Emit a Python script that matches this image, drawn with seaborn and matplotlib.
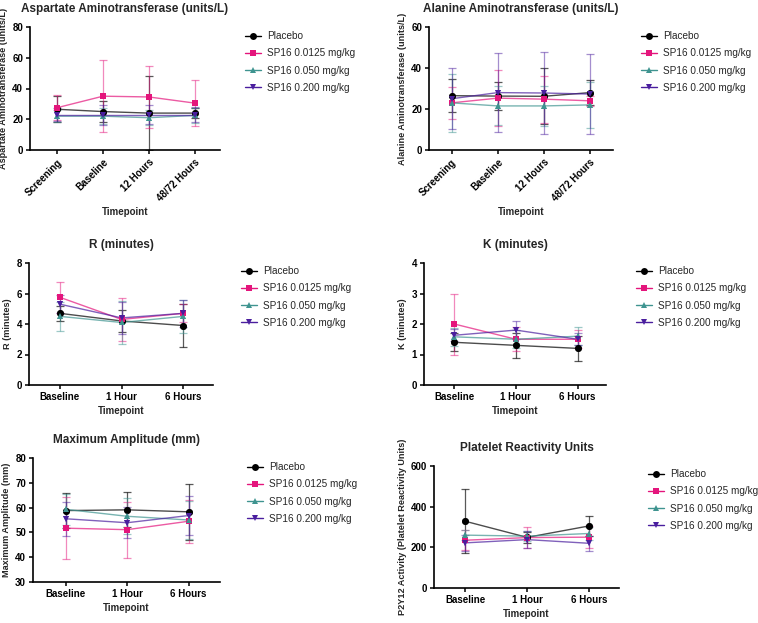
import numpy as np
import pandas as pd
import seaborn as sns
import matplotlib
matplotlib.use("Agg")
import matplotlib.pyplot as plt
from matplotlib.lines import Line2D

sns.set_theme(style="ticks")
plt.rcParams['font.family'] = ['Liberation Sans', 'DejaVu Sans']

groups = ["Placebo", "SP16 0.0125 mg/kg", "SP16 0.050 mg/kg", "SP16 0.200 mg/kg"]
colors = ["#000000", "#E4157C", "#3F9490", "#4A1E9E"]
markers = ["o", "s", "^", "v"]

tp_liver = ["Screening", "Baseline", "12 Hours", "48/72 Hours"]
tp_teg = ["Baseline", "1 Hour", "6 Hours"]

# Aspartate Aminotransferase (mean, SD)
ast_mean = [[26.5, 25, 24, 24], [27.5, 35, 34.5, 30.5], [22, 22, 21, 22.5], [23, 23, 23, 23]]
ast_sd = [[8.5, 7, 24, 3], [8, 23.5, 20, 15], [4, 5, 5, 5], [4, 6.5, 6.2, 5]]
# Alanine Aminotransferase
alt_mean = [[26.5, 26.3, 26.2, 28], [23, 25.3, 24.8, 24], [23, 21.5, 21.5, 22], [25, 28, 27.8, 27.3]]
alt_sd = [[8.2, 6.8, 13.6, 6.2], [7.8, 13.5, 11.4, 2.5], [14, 9.5, 9.8, 11.3], [14.9, 19.3, 20, 19.3]]
# R (minutes)
r_mean = [[4.7, 4.2, 3.9], [5.75, 4.3, 4.7], [4.5, 4.1, 4.5], [5.3, 4.4, 4.7]]
r_sd = [[0.5, 0.72, 1.4], [1.0, 1.4, 0.6], [0.95, 1.4, 1.07], [0.6, 1.05, 0.87]]
# K (minutes)
k_mean = [[1.4, 1.3, 1.2], [2.0, 1.5, 1.5], [1.58, 1.5, 1.6], [1.63, 1.8, 1.5]]
k_sd = [[0.3, 0.4, 0.4], [1.0, 0.4, 0.3], [0.3, 0.3, 0.3], [0.2, 0.3, 0.2]]
# Maximum Amplitude (mm)
ma_mean = [[58.8, 59.1, 58.3], [51.7, 51.1, 54.5], [59.3, 56.5, 55], [55.5, 53.9, 56.8]]
ma_sd = [[6.9, 7.1, 11.2], [12.6, 11.3, 8.7], [6.3, 7.2, 7.5], [6.8, 6.2, 7.8]]
# Platelet Reactivity Units
pru_mean = [[328, 249, 305], [235, 248, 250], [260, 255, 268], [222, 238, 220]]
pru_sd = [[157, 28, 50], [48, 51, 55], [25, 25, 30], [38, 40, 38]]

W, H = 758, 623
fig = plt.figure(figsize=(W / 100, H / 100), dpi=100)


def box(x0, x1, ytop, ybot):
    return [x0 / W, 1 - ybot / H, (x1 - x0) / W, (ybot - ytop) / H]


panels = [
    dict(box=box(30, 220, 27, 150), tp=tp_liver, m=ast_mean, s=ast_sd, ylim=(0, 80), yt=[0, 20, 40, 60, 80],
         title="Aspartate Aminotransferase (units/L)", ylabel="Aspartate Aminotransferase (units/L)",
         xlim=(-0.59, 3.55), rot=True, leg=(245, 31)),
    dict(box=box(429, 613, 27, 150), tp=tp_liver, m=alt_mean, s=alt_sd, ylim=(0, 60), yt=[0, 20, 40, 60],
         title="Alanine Aminotransferase (units/L)", ylabel="Alanine Aminotransferase (units/L)",
         xlim=(-0.49, 3.5), rot=True, leg=(641, 31)),
    dict(box=box(29, 213, 263, 385), tp=tp_teg, m=r_mean, s=r_sd, ylim=(0, 8), yt=[0, 2, 4, 6, 8],
         title="R (minutes)", ylabel="R (minutes)", xlim=(-0.5, 2.48), rot=False, leg=(241, 266)),
    dict(box=box(424, 606, 263, 385), tp=tp_teg, m=k_mean, s=k_sd, ylim=(0, 4), yt=[0, 1, 2, 3, 4],
         title="K (minutes)", ylabel="K (minutes)", xlim=(-0.49, 2.46), rot=False, leg=(636, 266)),
    dict(box=box(33, 220, 458, 582), tp=tp_teg, m=ma_mean, s=ma_sd, ylim=(30, 80), yt=[30, 40, 50, 60, 70, 80],
         title="Maximum Amplitude (mm)", ylabel="Maximum Amplitude (mm)", xlim=(-0.53, 2.51), rot=False,
         leg=(247, 462)),
    dict(box=box(434, 619, 466, 588), tp=tp_teg, m=pru_mean, s=pru_sd, ylim=(0, 600), yt=[0, 200, 400, 600],
         title="Platelet Reactivity Units", ylabel="P2Y12 Activity (Platelet Reactivity Units)",
         xlim=(-0.51, 2.49), rot=False, leg=(648, 469)),
]

for p in panels:
    ax = fig.add_axes(p["box"])
    n = len(p["tp"])
    rows = []
    for gi, g in enumerate(groups):
        for ti in range(n):
            rows.append(dict(group=g, pos=ti, val=p["m"][gi][ti], sd=p["s"][gi][ti]))
    df = pd.DataFrame(rows)
    # error bars
    for gi, g in enumerate(groups):
        d = df[df.group == g]
        ax.errorbar(d.pos, d.val, yerr=d.sd, fmt="none", ecolor=colors[gi], elinewidth=0.9,
                    capsize=2.6, capthick=0.9, alpha=0.5 if gi else 0.65, zorder=2)
    sns.lineplot(data=df, x="pos", y="val", hue="group", style="group", hue_order=groups, style_order=groups,
                 palette=dict(zip(groups, colors)), markers=dict(zip(groups, markers)), dashes=False,
                 linewidth=1.0, markersize=5, markeredgewidth=0, alpha=0.7, legend=False, ax=ax, zorder=3)
    # solid markers on top
    for gi, g in enumerate(groups):
        d = df[df.group == g]
        ax.plot(d.pos, d.val, linestyle="none", marker=markers[gi], color=colors[gi], markersize=5,
                markeredgewidth=0, zorder=4)
    ax.set_xlim(*p["xlim"])
    ax.set_ylim(*p["ylim"])
    ax.set_yticks(p["yt"])
    ax.set_xticks(range(n))
    if p["rot"]:
        ax.set_xticklabels(p["tp"], rotation=45, ha="right", rotation_mode="anchor")
    else:
        ax.set_xticklabels(p["tp"])
    for lab in ax.get_xticklabels() + ax.get_yticklabels():
        lab.set_fontweight("bold")
        lab.set_fontsize(7)
    ax.tick_params(axis="both", direction="out", length=3, width=1.1, pad=2, colors="black")
    for sp in ["top", "right"]:
        ax.spines[sp].set_visible(False)
    for sp in ["left", "bottom"]:
        ax.spines[sp].set_linewidth(1.2)
        ax.spines[sp].set_color("black")
    ax.set_title(p["title"], fontsize=8.5, fontweight="bold", pad=11)
    ax.set_ylabel(p["ylabel"], fontsize=6.6, fontweight="bold", labelpad=3)
    ax.set_xlabel("Timepoint", fontsize=7, fontweight="bold", labelpad=3)
    handles = [Line2D([0], [0], color=colors[gi], marker=markers[gi], markersize=5, markeredgewidth=0,
                      linewidth=1.0, alpha=1.0) for gi in range(4)]
    lx, ly = p["leg"]
    fig.legend(handles, groups, loc="upper left", bbox_to_anchor=(lx / W, 1 - ly / H), frameon=False,
               fontsize=7.2, handlelength=1.6, handletextpad=0.6, labelspacing=0.73, borderaxespad=0,
               borderpad=0)

fig.savefig("out.png", dpi=100, facecolor="white")
